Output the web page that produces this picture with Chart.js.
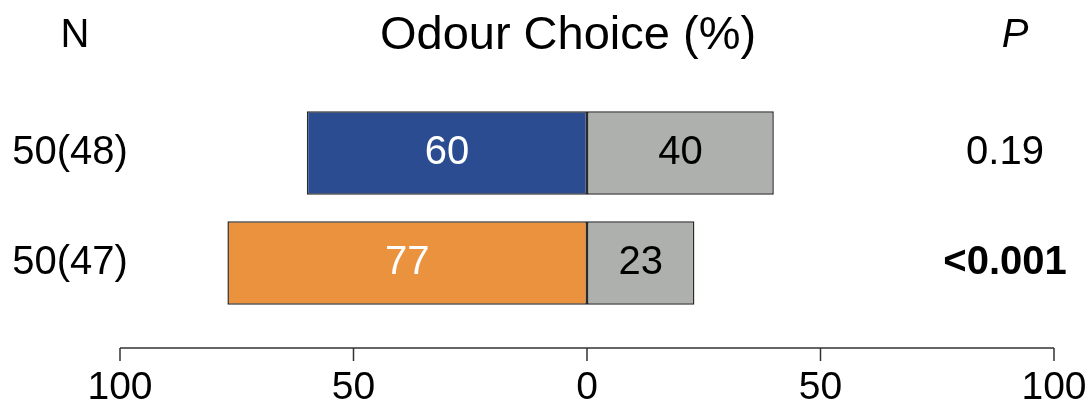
<!DOCTYPE html>
<html>
<head>
<meta charset="utf-8">
<script src="https://cdn.jsdelivr.net/npm/chart.js@4"></script>
<style>
  html, body { margin: 0; padding: 0; background: #fff; }
  #wrap { width: 1092px; height: 407px; }
</style>
</head>
<body>
<div id="wrap"><canvas id="choiceChart" width="1092" height="407"></canvas></div>
<script>
// Odour choice per test group
const groups = ['50(48)', '50(47)'];
const pValues = ['0.19', '<0.001'];
const pBold = [false, true];
const chosenShare = [60, 77];
const otherShare = [40, 23];
const chosenColors = ['#2b4c90', '#ea923d'];
const xTicks = [-100, -50, 0, 50, 100];

const FONT = "'Liberation Sans', Arial, Helvetica, sans-serif";
const AXIS_GAP = 30;   // free space between the bars and the percentage axis
const TICK_LEN = 13;

// percentage axis line with tick marks, drawn a bit below the plot area
const axisPlugin = {
  id: 'choiceAxis',
  afterDraw(chart) {
    const ctx = chart.ctx;
    const x = chart.scales.x;
    const y0 = chart.chartArea.bottom + AXIS_GAP;
    ctx.save();
    ctx.strokeStyle = '#333';
    ctx.lineWidth = 1.5;
    ctx.beginPath();
    ctx.moveTo(x.getPixelForValue(xTicks[0]), y0);
    ctx.lineTo(x.getPixelForValue(xTicks[xTicks.length - 1]), y0);
    xTicks.forEach(v => {
      const px = x.getPixelForValue(v);
      ctx.moveTo(px, y0);
      ctx.lineTo(px, y0 + TICK_LEN);
    });
    ctx.stroke();
    ctx.restore();
  }
};

// header row, group sizes, P values and the numbers inside the bars
const textPlugin = {
  id: 'choiceText',
  afterDraw(chart) {
    const ctx = chart.ctx;
    const yScale = chart.scales.y;
    ctx.save();
    ctx.textBaseline = 'middle';
    ctx.textAlign = 'center';
    ctx.fillStyle = '#000';

    ctx.font = `40px ${FONT}`;
    ctx.fillText('N', 75, 36);
    ctx.font = `47px ${FONT}`;
    ctx.fillText('Odour Choice (%)', 568, 36);
    ctx.font = `italic 40px ${FONT}`;
    ctx.fillText('P', 1015, 36);

    groups.forEach((g, i) => {
      const y = yScale.getPixelForValue(i);
      ctx.font = `40px ${FONT}`;
      ctx.fillText(g, 70, y);
      ctx.font = `${pBold[i] ? 'bold ' : ''}40px ${FONT}`;
      ctx.fillText(pValues[i], 1005, y);
    });

    chart.data.datasets.forEach((ds, di) => {
      const meta = chart.getDatasetMeta(di);
      meta.data.forEach((bar, i) => {
        ctx.font = `40px ${FONT}`;
        ctx.fillStyle = di === 0 ? '#fff' : '#000';
        ctx.fillText(String(Math.abs(ds.data[i])), (bar.x + bar.base) / 2, bar.y);
      });
    });
    ctx.restore();
  }
};

new Chart(document.getElementById('choiceChart'), {
  type: 'bar',
  data: {
    labels: groups,
    datasets: [
      {
        label: 'Chosen odour',
        data: chosenShare.map(v => -v),
        backgroundColor: chosenColors,
        borderColor: '#2a2a2a',
        borderWidth: 1.5,
        borderSkipped: false,
        categoryPercentage: 0.76,
        barPercentage: 1
      },
      {
        label: 'Other',
        data: otherShare,
        backgroundColor: '#aeb0ad',
        borderColor: '#2a2a2a',
        borderWidth: 1.5,
        borderSkipped: false,
        categoryPercentage: 0.76,
        barPercentage: 1
      }
    ]
  },
  options: {
    indexAxis: 'y',
    responsive: false,
    animation: false,
    devicePixelRatio: 1,
    layout: { padding: { top: 98, left: 120, right: 38, bottom: 0 } },
    plugins: {
      legend: { display: false },
      tooltip: { enabled: false }
    },
    scales: {
      x: {
        type: 'linear',
        min: -100,
        max: 100,
        stacked: true,
        afterBuildTicks: scale => { scale.ticks = xTicks.map(v => ({ value: v })); },
        afterFit: scale => {
          scale.height = 89;
          scale.paddingLeft = 0;
          scale.paddingRight = 0;
        },
        border: { display: false },
        grid: { display: false, drawTicks: false },
        ticks: {
          color: '#000',
          padding: AXIS_GAP + TICK_LEN + 4,
          maxRotation: 0,
          font: { family: FONT, size: 39 },
          callback: v => Math.abs(v)
        }
      },
      y: {
        stacked: true,
        display: false
      }
    }
  },
  plugins: [axisPlugin, textPlugin]
});
</script>
</body>
</html>
